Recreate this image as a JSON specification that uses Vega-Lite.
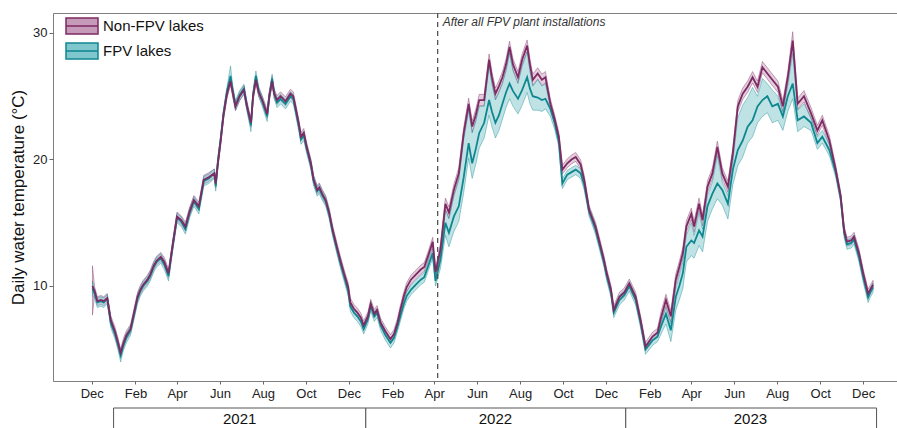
{
"$schema": "https://vega.github.io/schema/vega-lite/v6.json",
"autosize": {"type": "pad"},
"padding": {"left": 9, "top": 11, "right": 0, "bottom": 0},
"background": "white",
"bounds": "flush",
"spacing": 27,
"config": {
  "font": "Liberation Sans",
  "view": {"stroke": "#7f7f7f", "strokeWidth": 1},
  "axisX": {"grid": false, "domain": false, "tickSize": 3, "tickColor": "#666", "labelFontSize": 13, "labelColor": "#222", "labelPadding": 3, "labelFlush": false, "labelOverlap": false},
  "axisY": {"grid": false, "domain": false, "tickSize": 4, "tickColor": "#666", "labelFontSize": 13, "labelColor": "#222", "labelPadding": 2, "titleFontSize": 17, "titleFontWeight": "normal", "titleColor": "#111", "titlePadding": 5}
},
"datasets": {
"w": [
{"d":"2020-12-02","a":10.0,"al":7.7,"ah":11.6,"b":9.8,"bl":9.3,"bh":10.4},
{"d":"2020-12-05","a":9.6,"al":9.25,"ah":9.95,"b":9.4,"bl":9.0,"bh":9.75},
{"d":"2020-12-09","a":8.8,"al":8.45,"ah":9.15,"b":8.7,"bl":8.3,"bh":9.05},
{"d":"2020-12-14","a":8.9,"al":8.55,"ah":9.25,"b":8.8,"bl":8.4,"bh":9.15},
{"d":"2020-12-18","a":8.8,"al":8.45,"ah":9.15,"b":8.7,"bl":8.3,"bh":9.05},
{"d":"2020-12-23","a":9.05,"al":8.7,"ah":9.4,"b":9.0,"bl":8.6,"bh":9.35},
{"d":"2020-12-28","a":7.3,"al":6.95,"ah":7.65,"b":7.1,"bl":6.7,"bh":7.45},
{"d":"2021-01-03","a":6.4,"al":6.05,"ah":6.75,"b":6.2,"bl":5.8,"bh":6.55},
{"d":"2021-01-07","a":5.6,"al":5.25,"ah":5.95,"b":5.4,"bl":5.0,"bh":5.75},
{"d":"2021-01-11","a":4.7,"al":4.35,"ah":5.05,"b":4.5,"bl":4.0,"bh":4.85},
{"d":"2021-01-15","a":5.5,"al":5.15,"ah":5.85,"b":5.3,"bl":4.9,"bh":5.65},
{"d":"2021-01-19","a":6.1,"al":5.75,"ah":6.45,"b":5.9,"bl":5.5,"bh":6.25},
{"d":"2021-01-25","a":6.6,"al":6.25,"ah":6.95,"b":6.5,"bl":6.1,"bh":6.85},
{"d":"2021-01-29","a":7.6,"al":7.25,"ah":7.95,"b":7.5,"bl":7.1,"bh":7.85},
{"d":"2021-02-04","a":9.15,"al":8.8,"ah":9.5,"b":9.0,"bl":8.6,"bh":9.35},
{"d":"2021-02-08","a":9.7,"al":9.35,"ah":10.05,"b":9.6,"bl":9.2,"bh":9.95},
{"d":"2021-02-12","a":10.1,"al":9.75,"ah":10.45,"b":10.0,"bl":9.6,"bh":10.35},
{"d":"2021-02-18","a":10.5,"al":10.15,"ah":10.85,"b":10.4,"bl":10.0,"bh":10.75},
{"d":"2021-02-22","a":10.9,"al":10.55,"ah":11.25,"b":10.8,"bl":10.4,"bh":11.15},
{"d":"2021-02-27","a":11.6,"al":11.25,"ah":11.95,"b":11.5,"bl":11.1,"bh":11.85},
{"d":"2021-03-03","a":12.0,"al":11.65,"ah":12.35,"b":11.9,"bl":11.5,"bh":12.25},
{"d":"2021-03-09","a":12.3,"al":11.95,"ah":12.65,"b":12.2,"bl":11.8,"bh":12.55},
{"d":"2021-03-14","a":11.9,"al":11.55,"ah":12.25,"b":11.7,"bl":11.3,"bh":12.05},
{"d":"2021-03-20","a":11.0,"al":10.65,"ah":11.35,"b":10.8,"bl":10.4,"bh":11.15},
{"d":"2021-03-26","a":13.3,"al":12.95,"ah":13.65,"b":13.2,"bl":12.8,"bh":13.55},
{"d":"2021-04-01","a":15.5,"al":15.15,"ah":15.85,"b":15.4,"bl":15.0,"bh":15.75},
{"d":"2021-04-07","a":15.2,"al":14.85,"ah":15.55,"b":15.1,"bl":14.7,"bh":15.45},
{"d":"2021-04-13","a":14.7,"al":14.35,"ah":15.05,"b":14.5,"bl":14.1,"bh":14.85},
{"d":"2021-04-19","a":15.9,"al":15.55,"ah":16.25,"b":15.8,"bl":15.4,"bh":16.15},
{"d":"2021-04-25","a":16.8,"al":16.45,"ah":17.15,"b":16.7,"bl":16.3,"bh":17.05},
{"d":"2021-05-02","a":16.3,"al":15.95,"ah":16.65,"b":16.1,"bl":15.7,"bh":16.45},
{"d":"2021-05-09","a":18.4,"al":18.05,"ah":18.75,"b":18.3,"bl":17.9,"bh":18.65},
{"d":"2021-05-16","a":18.6,"al":18.25,"ah":18.95,"b":18.5,"bl":18.1,"bh":18.85},
{"d":"2021-05-24","a":18.9,"al":18.55,"ah":19.25,"b":18.9,"bl":18.5,"bh":19.25},
{"d":"2021-05-26","a":18.1,"al":17.75,"ah":18.45,"b":17.9,"bl":17.5,"bh":18.25},
{"d":"2021-05-29","a":19.7,"al":19.35,"ah":20.05,"b":19.8,"bl":19.4,"bh":20.15},
{"d":"2021-06-02","a":21.5,"al":21.15,"ah":21.85,"b":21.6,"bl":21.2,"bh":21.95},
{"d":"2021-06-06","a":23.5,"al":23.15,"ah":23.85,"b":23.6,"bl":23.2,"bh":23.95},
{"d":"2021-06-11","a":25.2,"al":24.85,"ah":25.55,"b":25.4,"bl":25.0,"bh":25.75},
{"d":"2021-06-16","a":26.2,"al":25.85,"ah":26.55,"b":26.6,"bl":26.1,"bh":27.4},
{"d":"2021-06-19","a":25.3,"al":24.95,"ah":25.65,"b":25.5,"bl":25.1,"bh":25.85},
{"d":"2021-06-23","a":24.2,"al":23.85,"ah":24.55,"b":24.3,"bl":23.9,"bh":24.65},
{"d":"2021-06-29","a":25.0,"al":24.65,"ah":25.35,"b":25.1,"bl":24.7,"bh":25.45},
{"d":"2021-07-05","a":25.5,"al":25.15,"ah":25.85,"b":25.6,"bl":25.2,"bh":25.95},
{"d":"2021-07-09","a":24.3,"al":23.95,"ah":24.65,"b":24.3,"bl":23.9,"bh":24.65},
{"d":"2021-07-15","a":22.9,"al":22.55,"ah":23.25,"b":22.7,"bl":22.2,"bh":23.05},
{"d":"2021-07-18","a":25.0,"al":24.65,"ah":25.35,"b":25.1,"bl":24.7,"bh":25.45},
{"d":"2021-07-22","a":26.3,"al":25.95,"ah":26.65,"b":26.6,"bl":26.2,"bh":27.0},
{"d":"2021-07-26","a":25.3,"al":24.95,"ah":25.65,"b":25.4,"bl":25.0,"bh":25.75},
{"d":"2021-07-31","a":24.7,"al":24.35,"ah":25.05,"b":24.6,"bl":24.2,"bh":24.95},
{"d":"2021-08-07","a":23.6,"al":23.25,"ah":23.95,"b":23.4,"bl":23.0,"bh":23.75},
{"d":"2021-08-10","a":25.0,"al":24.65,"ah":25.35,"b":25.0,"bl":24.6,"bh":25.35},
{"d":"2021-08-14","a":26.2,"al":25.85,"ah":26.55,"b":26.4,"bl":26.0,"bh":26.75},
{"d":"2021-08-17","a":25.2,"al":24.85,"ah":25.55,"b":25.2,"bl":24.8,"bh":25.55},
{"d":"2021-08-21","a":24.7,"al":24.35,"ah":25.05,"b":24.5,"bl":24.1,"bh":24.85},
{"d":"2021-08-26","a":25.0,"al":24.65,"ah":25.35,"b":24.8,"bl":24.4,"bh":25.15},
{"d":"2021-09-02","a":24.6,"al":24.25,"ah":24.95,"b":24.4,"bl":24.0,"bh":24.75},
{"d":"2021-09-09","a":25.2,"al":24.85,"ah":25.55,"b":25.0,"bl":24.6,"bh":25.35},
{"d":"2021-09-13","a":25.0,"al":24.65,"ah":25.35,"b":24.8,"bl":24.4,"bh":25.15},
{"d":"2021-09-16","a":24.2,"al":23.85,"ah":24.55,"b":24.0,"bl":23.6,"bh":24.35},
{"d":"2021-09-21","a":22.8,"al":22.45,"ah":23.15,"b":22.6,"bl":22.2,"bh":22.95},
{"d":"2021-09-24","a":21.8,"al":21.45,"ah":22.15,"b":21.6,"bl":21.2,"bh":21.95},
{"d":"2021-09-28","a":22.1,"al":21.75,"ah":22.45,"b":21.9,"bl":21.5,"bh":22.25},
{"d":"2021-10-02","a":21.0,"al":20.65,"ah":21.35,"b":20.9,"bl":20.5,"bh":21.25},
{"d":"2021-10-08","a":19.7,"al":19.35,"ah":20.05,"b":19.6,"bl":19.2,"bh":19.95},
{"d":"2021-10-12","a":18.4,"al":18.05,"ah":18.75,"b":18.3,"bl":17.9,"bh":18.65},
{"d":"2021-10-17","a":17.6,"al":17.25,"ah":17.95,"b":17.5,"bl":17.1,"bh":17.85},
{"d":"2021-10-20","a":17.8,"al":17.45,"ah":18.15,"b":17.7,"bl":17.3,"bh":18.05},
{"d":"2021-10-24","a":17.3,"al":16.95,"ah":17.65,"b":17.2,"bl":16.8,"bh":17.55},
{"d":"2021-10-29","a":16.8,"al":16.45,"ah":17.15,"b":16.7,"bl":16.3,"bh":17.05},
{"d":"2021-11-03","a":15.8,"al":15.45,"ah":16.15,"b":15.7,"bl":15.3,"bh":16.05},
{"d":"2021-11-08","a":14.4,"al":14.05,"ah":14.75,"b":14.3,"bl":13.9,"bh":14.65},
{"d":"2021-11-15","a":12.85,"al":12.5,"ah":13.2,"b":12.7,"bl":12.3,"bh":13.05},
{"d":"2021-11-19","a":12.0,"al":11.65,"ah":12.35,"b":11.8,"bl":11.4,"bh":12.15},
{"d":"2021-11-24","a":11.0,"al":10.65,"ah":11.35,"b":10.8,"bl":10.4,"bh":11.15},
{"d":"2021-11-30","a":9.9,"al":9.55,"ah":10.25,"b":9.6,"bl":9.2,"bh":9.95},
{"d":"2021-12-03","a":8.7,"al":8.35,"ah":9.05,"b":8.4,"bl":8.0,"bh":8.75},
{"d":"2021-12-08","a":8.2,"al":7.85,"ah":8.55,"b":7.9,"bl":7.5,"bh":8.25},
{"d":"2021-12-13","a":7.9,"al":7.55,"ah":8.25,"b":7.6,"bl":7.2,"bh":7.95},
{"d":"2021-12-18","a":7.5,"al":7.15,"ah":7.85,"b":7.2,"bl":6.8,"bh":7.55},
{"d":"2021-12-22","a":6.9,"al":6.55,"ah":7.25,"b":6.6,"bl":6.2,"bh":6.95},
{"d":"2021-12-28","a":7.6,"al":7.25,"ah":7.95,"b":7.4,"bl":7.0,"bh":7.75},
{"d":"2022-01-01","a":8.6,"al":8.25,"ah":8.95,"b":8.4,"bl":8.0,"bh":8.75},
{"d":"2022-01-06","a":7.8,"al":7.45,"ah":8.15,"b":7.6,"bl":7.2,"bh":7.95},
{"d":"2022-01-10","a":8.1,"al":7.75,"ah":8.45,"b":7.9,"bl":7.5,"bh":8.25},
{"d":"2022-01-15","a":7.1,"al":6.75,"ah":7.45,"b":6.9,"bl":6.5,"bh":7.25},
{"d":"2022-01-22","a":6.4,"al":6.05,"ah":6.75,"b":6.1,"bl":5.7,"bh":6.45},
{"d":"2022-01-29","a":5.8,"al":5.45,"ah":6.15,"b":5.5,"bl":5.1,"bh":5.85},
{"d":"2022-02-03","a":6.2,"al":5.85,"ah":6.55,"b":5.9,"bl":5.5,"bh":6.25},
{"d":"2022-02-08","a":7.1,"al":6.75,"ah":7.45,"b":6.8,"bl":6.4,"bh":7.15},
{"d":"2022-02-12","a":8.1,"al":7.75,"ah":8.45,"b":7.6,"bl":7.2,"bh":7.95},
{"d":"2022-02-17","a":9.2,"al":8.85,"ah":9.55,"b":8.6,"bl":8.2,"bh":8.95},
{"d":"2022-02-21","a":9.9,"al":9.55,"ah":10.25,"b":9.2,"bl":8.8,"bh":9.55},
{"d":"2022-02-27","a":10.5,"al":10.15,"ah":10.85,"b":9.7,"bl":9.3,"bh":10.05},
{"d":"2022-03-06","a":10.9,"al":10.55,"ah":11.25,"b":10.1,"bl":9.7,"bh":10.45},
{"d":"2022-03-13","a":11.3,"al":10.95,"ah":11.65,"b":10.5,"bl":10.1,"bh":10.85},
{"d":"2022-03-18","a":11.5,"al":11.15,"ah":11.85,"b":10.7,"bl":10.3,"bh":11.05},
{"d":"2022-03-23","a":12.3,"al":11.95,"ah":12.65,"b":11.5,"bl":11.1,"bh":11.85},
{"d":"2022-03-30","a":13.5,"al":13.15,"ah":13.85,"b":12.6,"bl":12.2,"bh":12.95},
{"d":"2022-04-03","a":11.1,"al":10.75,"ah":11.45,"b":10.4,"bl":10.0,"bh":10.75},
{"d":"2022-04-10","a":12.9,"al":12.45,"ah":13.35,"b":12.1,"bl":11.4,"bh":12.5},
{"d":"2022-04-17","a":16.5,"al":16.05,"ah":16.95,"b":15.0,"bl":14.0,"bh":16.0},
{"d":"2022-04-22","a":15.8,"al":15.35,"ah":16.25,"b":14.2,"bl":13.1,"bh":15.3},
{"d":"2022-04-29","a":17.6,"al":17.15,"ah":18.05,"b":15.5,"bl":14.3,"bh":17.1},
{"d":"2022-05-06","a":18.9,"al":18.45,"ah":19.35,"b":16.3,"bl":15.1,"bh":18.4},
{"d":"2022-05-13","a":22.1,"al":21.65,"ah":22.55,"b":18.6,"bl":17.4,"bh":21.6},
{"d":"2022-05-20","a":24.4,"al":23.95,"ah":24.85,"b":21.3,"bl":20.1,"bh":23.9},
{"d":"2022-05-25","a":22.6,"al":22.15,"ah":23.05,"b":19.7,"bl":18.5,"bh":22.1},
{"d":"2022-05-30","a":23.5,"al":23.05,"ah":23.95,"b":20.8,"bl":19.6,"bh":23.0},
{"d":"2022-06-04","a":24.7,"al":24.25,"ah":25.15,"b":22.1,"bl":20.9,"bh":24.2},
{"d":"2022-06-11","a":24.7,"al":24.25,"ah":25.15,"b":22.9,"bl":21.7,"bh":24.2},
{"d":"2022-06-18","a":27.9,"al":27.45,"ah":28.35,"b":24.7,"bl":23.5,"bh":27.4},
{"d":"2022-06-22","a":26.5,"al":26.05,"ah":26.95,"b":23.8,"bl":22.6,"bh":26.0},
{"d":"2022-06-27","a":25.2,"al":24.75,"ah":25.65,"b":22.9,"bl":21.7,"bh":24.7},
{"d":"2022-07-02","a":25.8,"al":25.35,"ah":26.25,"b":23.5,"bl":22.3,"bh":25.3},
{"d":"2022-07-07","a":26.5,"al":26.05,"ah":26.95,"b":24.4,"bl":23.2,"bh":26.0},
{"d":"2022-07-12","a":27.5,"al":27.05,"ah":27.95,"b":25.3,"bl":24.1,"bh":27.0},
{"d":"2022-07-17","a":28.9,"al":28.45,"ah":29.35,"b":26.0,"bl":24.8,"bh":28.4},
{"d":"2022-07-22","a":27.5,"al":27.05,"ah":27.95,"b":25.4,"bl":24.2,"bh":27.0},
{"d":"2022-07-29","a":26.5,"al":26.05,"ah":26.95,"b":24.8,"bl":23.6,"bh":26.0},
{"d":"2022-08-04","a":27.9,"al":27.45,"ah":28.35,"b":25.5,"bl":24.3,"bh":27.4},
{"d":"2022-08-11","a":29.0,"al":28.55,"ah":29.45,"b":26.5,"bl":25.3,"bh":28.5},
{"d":"2022-08-15","a":27.5,"al":27.05,"ah":27.95,"b":25.6,"bl":24.4,"bh":27.0},
{"d":"2022-08-19","a":26.3,"al":25.85,"ah":26.75,"b":25.0,"bl":23.9,"bh":25.8},
{"d":"2022-08-26","a":26.8,"al":26.35,"ah":27.25,"b":24.9,"bl":23.9,"bh":26.3},
{"d":"2022-09-01","a":26.3,"al":25.85,"ah":26.75,"b":24.7,"bl":23.8,"bh":25.8},
{"d":"2022-09-06","a":26.5,"al":26.05,"ah":26.95,"b":24.8,"bl":24.0,"bh":26.0},
{"d":"2022-09-13","a":24.4,"al":24.0,"ah":24.8,"b":24.0,"bl":23.4,"bh":24.4},
{"d":"2022-09-19","a":23.2,"al":22.85,"ah":23.55,"b":22.9,"bl":22.4,"bh":23.3},
{"d":"2022-09-25","a":21.8,"al":21.45,"ah":22.15,"b":21.4,"bl":21.0,"bh":21.8},
{"d":"2022-09-30","a":19.2,"al":18.85,"ah":19.55,"b":18.1,"bl":17.7,"bh":18.45},
{"d":"2022-10-07","a":19.7,"al":19.35,"ah":20.05,"b":18.8,"bl":18.4,"bh":19.15},
{"d":"2022-10-13","a":20.0,"al":19.65,"ah":20.35,"b":19.0,"bl":18.6,"bh":19.35},
{"d":"2022-10-19","a":20.2,"al":19.85,"ah":20.55,"b":19.2,"bl":18.8,"bh":19.55},
{"d":"2022-10-26","a":19.6,"al":19.25,"ah":19.95,"b":18.9,"bl":18.5,"bh":19.25},
{"d":"2022-10-31","a":18.4,"al":18.05,"ah":18.75,"b":18.0,"bl":17.6,"bh":18.35},
{"d":"2022-11-07","a":16.0,"al":15.65,"ah":16.35,"b":15.9,"bl":15.5,"bh":16.25},
{"d":"2022-11-16","a":14.7,"al":14.35,"ah":15.05,"b":14.5,"bl":14.1,"bh":14.85},
{"d":"2022-11-22","a":13.4,"al":13.05,"ah":13.75,"b":13.2,"bl":12.8,"bh":13.55},
{"d":"2022-11-28","a":12.05,"al":11.7,"ah":12.4,"b":11.9,"bl":11.5,"bh":12.25},
{"d":"2022-12-02","a":11.0,"al":10.65,"ah":11.35,"b":10.8,"bl":10.4,"bh":11.15},
{"d":"2022-12-08","a":9.7,"al":9.35,"ah":10.05,"b":9.5,"bl":9.1,"bh":9.85},
{"d":"2022-12-12","a":8.1,"al":7.75,"ah":8.45,"b":7.9,"bl":7.5,"bh":8.25},
{"d":"2022-12-20","a":9.15,"al":8.8,"ah":9.5,"b":8.9,"bl":8.5,"bh":9.25},
{"d":"2022-12-27","a":9.5,"al":9.15,"ah":9.85,"b":9.3,"bl":8.9,"bh":9.65},
{"d":"2023-01-03","a":10.2,"al":9.85,"ah":10.55,"b":10.0,"bl":9.6,"bh":10.35},
{"d":"2023-01-12","a":9.15,"al":8.8,"ah":9.5,"b":8.9,"bl":8.5,"bh":9.25},
{"d":"2023-01-19","a":7.3,"al":6.95,"ah":7.65,"b":7.1,"bl":6.7,"bh":7.45},
{"d":"2023-01-26","a":5.2,"al":4.85,"ah":5.55,"b":5.0,"bl":4.6,"bh":5.35},
{"d":"2023-02-05","a":6.0,"al":5.65,"ah":6.35,"b":5.7,"bl":5.3,"bh":6.05},
{"d":"2023-02-12","a":6.3,"al":5.95,"ah":6.65,"b":6.0,"bl":5.6,"bh":6.35},
{"d":"2023-02-17","a":7.5,"al":7.05,"ah":7.95,"b":6.8,"bl":6.2,"bh":7.15},
{"d":"2023-02-24","a":8.9,"al":8.45,"ah":9.35,"b":7.8,"bl":7.0,"bh":8.3},
{"d":"2023-03-03","a":7.6,"al":7.15,"ah":8.05,"b":6.5,"bl":5.6,"bh":7.0},
{"d":"2023-03-10","a":10.5,"al":10.05,"ah":10.95,"b":9.15,"bl":8.1,"bh":9.8},
{"d":"2023-03-15","a":11.5,"al":11.05,"ah":11.95,"b":10.0,"bl":8.9,"bh":10.8},
{"d":"2023-03-20","a":12.6,"al":12.15,"ah":13.05,"b":11.0,"bl":9.8,"bh":11.9},
{"d":"2023-03-25","a":14.7,"al":14.25,"ah":15.15,"b":13.1,"bl":11.9,"bh":14.0},
{"d":"2023-04-01","a":15.7,"al":15.25,"ah":16.15,"b":13.6,"bl":12.4,"bh":15.0},
{"d":"2023-04-05","a":14.7,"al":14.25,"ah":15.15,"b":13.4,"bl":12.2,"bh":14.0},
{"d":"2023-04-12","a":16.5,"al":16.05,"ah":16.95,"b":14.4,"bl":13.2,"bh":15.8},
{"d":"2023-04-17","a":15.2,"al":14.75,"ah":15.65,"b":13.9,"bl":12.7,"bh":14.5},
{"d":"2023-04-24","a":17.85,"al":17.4,"ah":18.3,"b":16.3,"bl":15.1,"bh":17.15},
{"d":"2023-05-01","a":18.9,"al":18.45,"ah":19.35,"b":17.3,"bl":16.1,"bh":18.2},
{"d":"2023-05-08","a":21.0,"al":20.55,"ah":21.45,"b":18.1,"bl":16.9,"bh":20.3},
{"d":"2023-05-15","a":18.9,"al":18.45,"ah":19.35,"b":17.6,"bl":16.4,"bh":18.2},
{"d":"2023-05-23","a":17.85,"al":17.4,"ah":18.3,"b":16.5,"bl":15.3,"bh":17.15},
{"d":"2023-05-30","a":20.5,"al":20.05,"ah":20.95,"b":19.2,"bl":18.0,"bh":19.8},
{"d":"2023-06-06","a":24.2,"al":23.75,"ah":24.65,"b":20.75,"bl":19.5,"bh":23.3},
{"d":"2023-06-13","a":25.2,"al":24.75,"ah":25.65,"b":21.5,"bl":20.2,"bh":24.3},
{"d":"2023-06-20","a":25.75,"al":25.3,"ah":26.2,"b":22.6,"bl":21.3,"bh":24.9},
{"d":"2023-06-27","a":26.5,"al":26.05,"ah":26.95,"b":23.1,"bl":21.8,"bh":25.7},
{"d":"2023-07-04","a":25.75,"al":25.3,"ah":26.2,"b":24.2,"bl":22.9,"bh":25.0},
{"d":"2023-07-11","a":27.3,"al":26.85,"ah":27.75,"b":24.7,"bl":23.4,"bh":26.4},
{"d":"2023-07-18","a":26.8,"al":26.35,"ah":27.25,"b":25.0,"bl":23.7,"bh":26.0},
{"d":"2023-07-25","a":26.3,"al":25.85,"ah":26.75,"b":24.2,"bl":22.9,"bh":25.5},
{"d":"2023-08-02","a":25.75,"al":25.3,"ah":26.2,"b":24.4,"bl":23.1,"bh":25.0},
{"d":"2023-08-09","a":24.2,"al":23.75,"ah":24.65,"b":23.4,"bl":22.3,"bh":23.8},
{"d":"2023-08-16","a":26.5,"al":26.05,"ah":26.95,"b":25.0,"bl":23.8,"bh":25.8},
{"d":"2023-08-23","a":29.4,"al":28.8,"ah":30.1,"b":26.0,"bl":24.8,"bh":28.4},
{"d":"2023-08-30","a":24.4,"al":23.95,"ah":24.85,"b":23.1,"bl":22.2,"bh":23.9},
{"d":"2023-09-08","a":25.0,"al":24.55,"ah":25.45,"b":23.4,"bl":22.6,"bh":24.4},
{"d":"2023-09-18","a":23.65,"al":23.2,"ah":24.1,"b":22.9,"bl":22.3,"bh":23.3},
{"d":"2023-09-27","a":22.3,"al":21.9,"ah":22.7,"b":21.3,"bl":20.8,"bh":21.8},
{"d":"2023-10-04","a":23.1,"al":22.7,"ah":23.5,"b":21.8,"bl":21.3,"bh":22.3},
{"d":"2023-10-14","a":21.5,"al":21.1,"ah":21.9,"b":20.75,"bl":20.3,"bh":21.2},
{"d":"2023-10-23","a":19.2,"al":18.85,"ah":19.55,"b":19.0,"bl":18.6,"bh":19.35},
{"d":"2023-10-30","a":17.1,"al":16.75,"ah":17.45,"b":17.0,"bl":16.6,"bh":17.35},
{"d":"2023-11-04","a":14.4,"al":14.05,"ah":14.75,"b":14.2,"bl":13.8,"bh":14.55},
{"d":"2023-11-08","a":13.5,"al":13.15,"ah":13.85,"b":13.3,"bl":12.9,"bh":13.65},
{"d":"2023-11-14","a":13.6,"al":13.25,"ah":13.95,"b":13.4,"bl":13.0,"bh":13.75},
{"d":"2023-11-18","a":13.9,"al":13.55,"ah":14.25,"b":13.7,"bl":13.3,"bh":14.05},
{"d":"2023-11-25","a":12.6,"al":12.25,"ah":12.95,"b":12.3,"bl":11.9,"bh":12.65},
{"d":"2023-12-01","a":11.0,"al":10.65,"ah":11.35,"b":10.7,"bl":10.3,"bh":11.05},
{"d":"2023-12-08","a":9.4,"al":9.05,"ah":9.75,"b":9.1,"bl":8.7,"bh":9.45},
{"d":"2023-12-11","a":9.7,"al":9.35,"ah":10.05,"b":9.5,"bl":9.1,"bh":9.85},
{"d":"2023-12-15","a":10.1,"al":9.75,"ah":10.45,"b":9.9,"bl":9.5,"bh":10.25}
]
},
"vconcat": [
{
  "width": 844,
  "height": 368,
  "encoding": {
    "x": {"field": "d", "type": "temporal", "title": null,
      "scale": {"type": "utc", "domain": [{"year":2020,"month":10,"date":7,"utc":true},{"year":2024,"month":1,"date":18,"utc":true}]},
      "axis": {"format": "%b", "values": [
        {"year":2020,"month":12,"date":1,"utc":true},{"year":2021,"month":2,"date":1,"utc":true},{"year":2021,"month":4,"date":1,"utc":true},{"year":2021,"month":6,"date":1,"utc":true},{"year":2021,"month":8,"date":1,"utc":true},{"year":2021,"month":10,"date":1,"utc":true},{"year":2021,"month":12,"date":1,"utc":true},
        {"year":2022,"month":2,"date":1,"utc":true},{"year":2022,"month":4,"date":1,"utc":true},{"year":2022,"month":6,"date":1,"utc":true},{"year":2022,"month":8,"date":1,"utc":true},{"year":2022,"month":10,"date":1,"utc":true},{"year":2022,"month":12,"date":1,"utc":true},
        {"year":2023,"month":2,"date":1,"utc":true},{"year":2023,"month":4,"date":1,"utc":true},{"year":2023,"month":6,"date":1,"utc":true},{"year":2023,"month":8,"date":1,"utc":true},{"year":2023,"month":10,"date":1,"utc":true},{"year":2023,"month":12,"date":1,"utc":true}
      ]}
    }
  },
  "layer": [
    {"data": {"name": "w"},
     "mark": {"type": "area", "fillOpacity": 0.5, "strokeWidth": 0.8, "strokeOpacity": 0.5},
     "encoding": {
       "y": {"field": "al", "type": "quantitative", "title": "Daily water temperature (°C)", "scale": {"domain": [2.49, 31.58], "nice": false, "zero": false}, "axis": {"values": [10, 20, 30]}},
       "y2": {"field": "ah"},
       "fill": {"datum": "Non-FPV lakes", "type": "nominal", "title": null, "scale": {"domain": ["Non-FPV lakes", "FPV lakes"], "range": ["#C59BB9", "#7FC7CC"]},
         "legend": {"title": null, "orient": "none", "legendX": 20, "legendY": 4, "symbolType": "M-2,-1H2V1H-2Z M-2,0H2", "symbolSize": 256, "symbolStrokeWidth": 1.5, "labelFontSize": 15, "labelColor": "#111", "labelOffset": 12, "rowPadding": 3, "padding": 0}},
       "stroke": {"datum": "Non-FPV lakes", "type": "nominal", "title": null, "scale": {"domain": ["Non-FPV lakes", "FPV lakes"], "range": ["#7E2A63", "#0F8790"]},
         "legend": {"title": null, "orient": "none", "legendX": 20, "legendY": 4, "symbolType": "M-2,-1H2V1H-2Z M-2,0H2", "symbolSize": 256, "symbolStrokeWidth": 1.5, "labelFontSize": 15, "labelColor": "#111", "labelOffset": 12, "rowPadding": 3, "padding": 0}}
     }},
    {"data": {"name": "w"},
     "mark": {"type": "area", "fillOpacity": 0.5, "strokeWidth": 0.8, "strokeOpacity": 0.5},
     "encoding": {
       "y": {"field": "bl", "type": "quantitative", "title": "Daily water temperature (°C)", "scale": {"domain": [2.49, 31.58], "nice": false, "zero": false}},
       "y2": {"field": "bh"},
       "fill": {"datum": "FPV lakes", "type": "nominal", "title": null},
       "stroke": {"datum": "FPV lakes", "type": "nominal", "title": null}
     }},
    {"data": {"name": "w"},
     "mark": {"type": "line", "strokeWidth": 1.8},
     "encoding": {
       "y": {"field": "b", "type": "quantitative", "title": "Daily water temperature (°C)", "scale": {"domain": [2.49, 31.58], "nice": false, "zero": false}},
       "stroke": {"datum": "FPV lakes", "type": "nominal", "title": null}
     }},
    {"data": {"name": "w"},
     "mark": {"type": "line", "strokeWidth": 1.8},
     "encoding": {
       "y": {"field": "a", "type": "quantitative", "title": "Daily water temperature (°C)", "scale": {"domain": [2.49, 31.58], "nice": false, "zero": false}},
       "stroke": {"datum": "Non-FPV lakes", "type": "nominal", "title": null}
     }},
    {"data": {"values": [{"d": "2022-04-06"}]},
     "mark": {"type": "rule", "color": "#555", "strokeWidth": 1.3, "strokeDash": [5, 4]},
     "encoding": {}},
    {"data": {"values": [{"d": "2022-04-06", "v": 30.85, "t": "After all FPV plant installations"}]},
     "mark": {"type": "text", "align": "left", "baseline": "middle", "dx": 5, "fontSize": 12, "fontStyle": "italic", "color": "#333"},
     "encoding": {
       "y": {"field": "v", "type": "quantitative", "title": "Daily water temperature (°C)", "scale": {"domain": [2.49, 31.58], "nice": false, "zero": false}},
       "text": {"field": "t"}
     }}
  ]
},
{
  "width": 844,
  "height": 25,
  "view": {"stroke": null},
  "data": {"values": [
    {"yr": "2021", "s": "2021-01-01", "e": "2021-12-25", "m": "2021-06-29"},
    {"yr": "2022", "s": "2021-12-25", "e": "2022-12-29", "m": "2022-06-27"},
    {"yr": "2023", "s": "2022-12-29", "e": "2023-12-20", "m": "2023-06-24"}
  ]},
  "layer": [
    {"mark": {"type": "rect", "fill": "white", "stroke": "#555", "strokeWidth": 1},
     "encoding": {
       "x": {"field": "s", "type": "temporal", "scale": {"type": "utc", "domain": [{"year":2020,"month":10,"date":7,"utc":true},{"year":2024,"month":1,"date":18,"utc":true}]}, "axis": null},
       "x2": {"field": "e"}
     }},
    {"mark": {"type": "text", "fontSize": 15, "color": "#111", "baseline": "middle", "dy": -2},
     "encoding": {
       "x": {"field": "m", "type": "temporal", "scale": {"type": "utc", "domain": [{"year":2020,"month":10,"date":7,"utc":true},{"year":2024,"month":1,"date":18,"utc":true}]}, "axis": null},
       "text": {"field": "yr"}
     }}
  ]
}
]
}
